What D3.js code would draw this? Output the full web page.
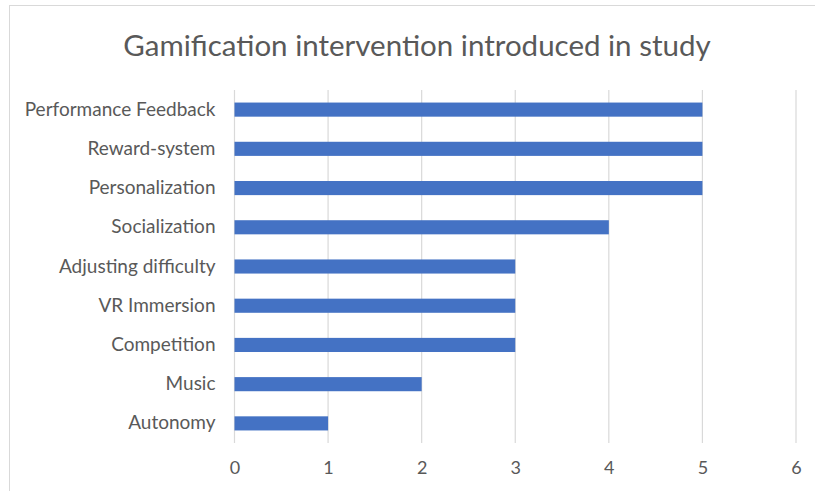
<!DOCTYPE html>
<html>
<head>
<meta charset="utf-8">
<script src="https://cdn.jsdelivr.net/npm/d3@7"></script>
<style>
  body { margin: 0; background: #fff; }
  svg { display: block; }
</style>
</head>
<body>
<div id="chart-container"></div>
<script>
// Data
const categories = ["Performance Feedback", "Reward-system", "Personalization", "Socialization",
  "Adjusting difficulty", "VR Immersion", "Competition", "Music", "Autonomy"];
const counts = [5, 5, 5, 4, 3, 3, 3, 2, 1];
const xTicks = [0, 1, 2, 3, 4, 5, 6];
const title = "Gamification intervention introduced in study";

const W = 815, H = 491;
const margin = { top: 90, right: 19, bottom: 48, left: 234.5 };
const width = W - margin.left - margin.right;
const height = H - margin.top - margin.bottom;
const font = "Lato, sans-serif";

const svg = d3.select("#chart-container")
  .append("svg")
  .attr("width", W)
  .attr("height", H);

// chart border
svg.append("rect")
  .attr("x", 9.5)
  .attr("y", 5.5)
  .attr("width", W + 20)
  .attr("height", H + 20)
  .attr("fill", "none")
  .attr("stroke", "#d9d9d9");

svg.append("text")
  .attr("x", 417)
  .attr("y", 56)
  .attr("text-anchor", "middle")
  .style("font-family", font)
  .style("font-size", "29.5px")
  .style("fill", "#595959")
  .text(title);

const g = svg.append("g")
  .attr("transform", `translate(${margin.left},${margin.top})`);

const x = d3.scaleLinear().domain([0, 6]).range([0, width]);
const y = d3.scaleBand().domain(categories).range([0, height]).paddingInner(0.64).paddingOuter(0.32);

// vertical gridlines
g.selectAll(".grid")
  .data(xTicks)
  .join("line")
  .attr("x1", d => x(d))
  .attr("x2", d => x(d))
  .attr("y1", 0)
  .attr("y2", height)
  .attr("stroke", "#d9d9d9")
  .attr("stroke-width", 1.2);

// bars
g.selectAll(".bar")
  .data(categories)
  .join("rect")
  .attr("x", x(0))
  .attr("y", d => y(d))
  .attr("width", (d, i) => x(counts[i]) - x(0))
  .attr("height", y.bandwidth())
  .attr("fill", "#4472c4");

// x axis
g.append("g")
  .attr("transform", `translate(0,${height})`)
  .call(d3.axisBottom(x).tickValues(xTicks).tickFormat(d3.format("d")).tickSize(0).tickPadding(18))
  .call(a => a.select(".domain").remove())
  .selectAll("text")
  .style("font-family", font)
  .style("font-size", "18px")
  .style("fill", "#595959");

// y axis
g.append("g")
  .call(d3.axisLeft(y).tickSize(0).tickPadding(19))
  .call(a => a.select(".domain").remove())
  .selectAll("text")
  .style("font-family", font)
  .style("font-size", "19px")
  .style("fill", "#595959");
</script>
</body>
</html>
